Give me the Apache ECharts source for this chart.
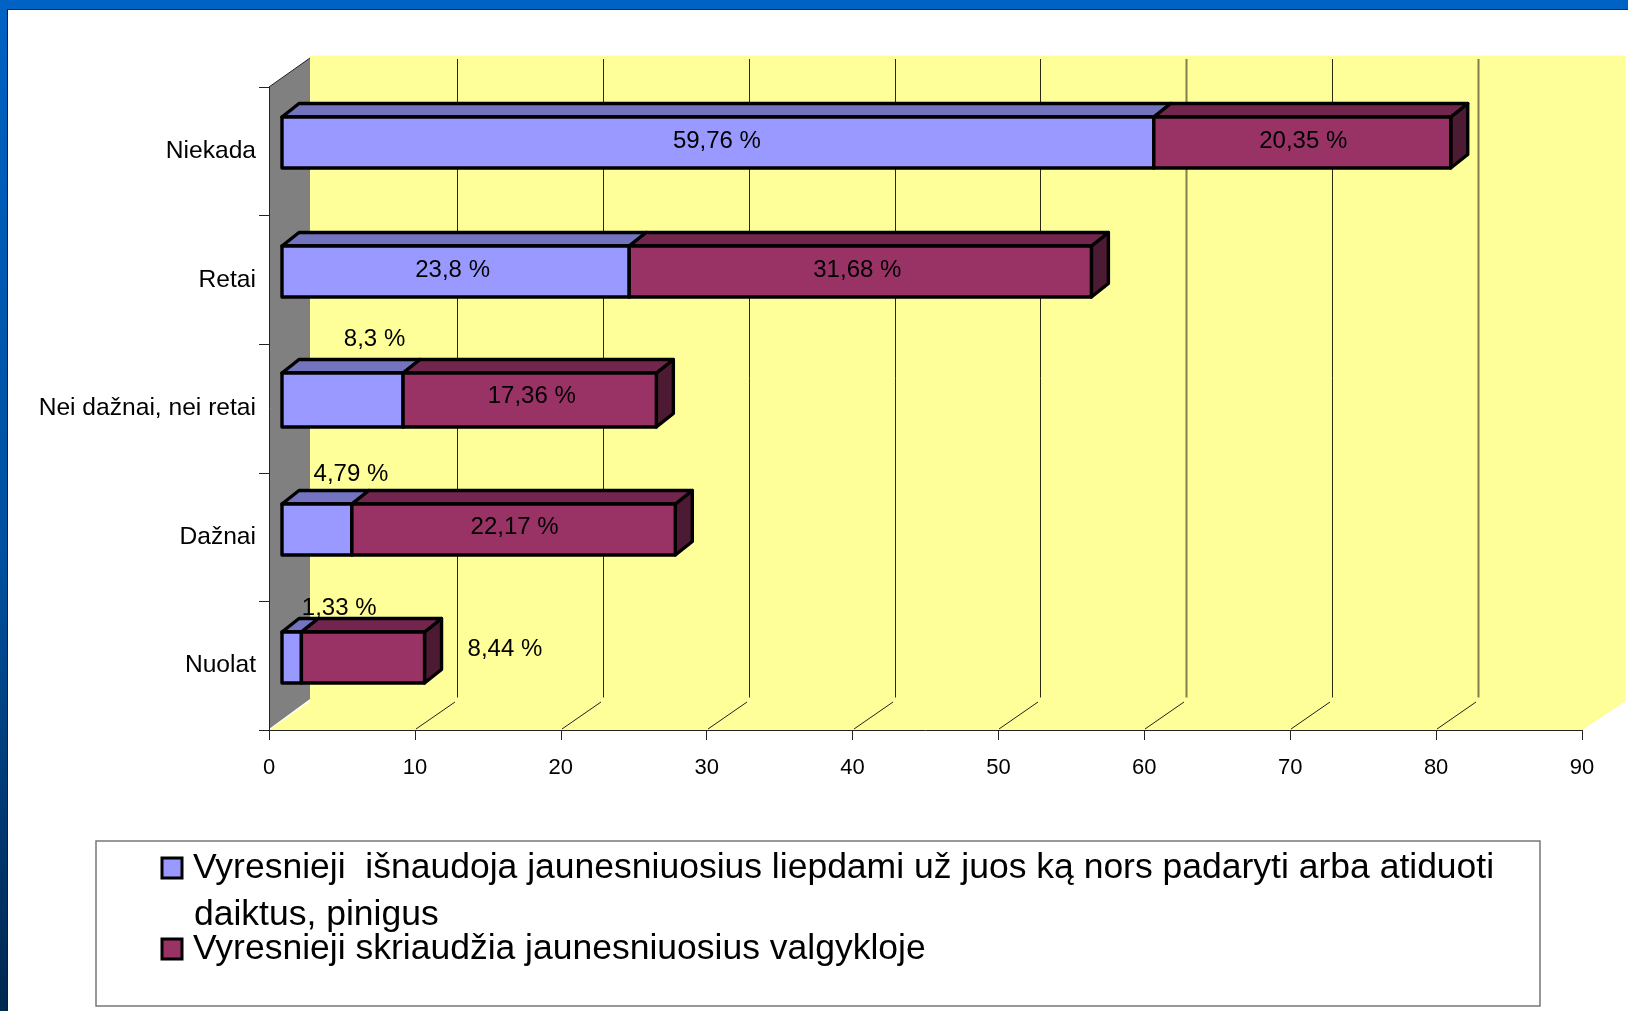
<!DOCTYPE html>
<html>
<head>
<meta charset="utf-8">
<style>html,body{margin:0;padding:0;background:#fff}#c{width:1628px;height:1011px}</style>
<script src="https://cdn.jsdelivr.net/npm/echarts@6/dist/echarts.min.js"></script>
</head>
<body>
<div id="c"></div>
<script>
const categories = ['Niekada', 'Retai', 'Nei dažnai, nei retai', 'Dažnai', 'Nuolat'];
const olderExploit = [59.76, 23.8, 8.3, 4.79, 1.33];
const olderCanteen = [20.35, 31.68, 17.36, 22.17, 8.44];
const seriesNames = [
  'Vyresnieji  išnaudoja jaunesniuosius liepdami už juos ką nors padaryti arba atiduoti daiktus, pinigus',
  'Vyresnieji skriaudžia jaunesniuosius valgykloje'
];
const xTicks = [10, 20, 30, 40, 50, 60, 70, 80];

const FONT = '"Liberation Sans", Arial, sans-serif';
const softGrid = { 60: 1, 80: 1 };
const WALL_DX = 41, WALL_DY = 29;
const BAR_SHIFT = 13, BAR_DX = 17, BAR_DY = 13.5, FRONT_UP = 34, FRONT_DOWN = 17;
// small per-category pixel fits of the bar box: category -> [top, bottom]
const barFit = { 2: [-2, 1], 3: [1, 1] };
// pixel nudges of the labels relative to their segment: [series][category] -> [dx, dy]
const labelNudge = {
  0: { 0: [-1, -1.5], 1: [-3, -1.5], 2: [32, -60.5], 3: [34, -54], 4: [47.5, -49] },
  1: { 0: [1, -1.5], 1: [-3, -1.5], 2: [2, -4], 3: [1, -1], 4: [142, -7.5] }
};

const chart = echarts.init(document.getElementById('c'), null, { renderer: 'canvas' });

function wallItem(params, api) {
  const r = params.coordSys;
  const L = r.x, R = r.x + r.width, T = r.y, B = r.y + r.height;
  return { type: 'group', children: [
    { type: 'rect', shape: { x: L + WALL_DX, y: T - 31.5, width: r.width + 3, height: r.height + 2.5 }, style: { fill: '#FFFF99' } },
    { type: 'polygon', shape: { points: [[L, B], [R, B], [R + 44, B - WALL_DY], [L + WALL_DX, B - WALL_DY]] }, style: { fill: '#FFFF99' } },
    { type: 'polygon', shape: { points: [[L, T], [L + WALL_DX, T - WALL_DY], [L + WALL_DX, B - WALL_DY - 2], [L, B - 1]] }, style: { fill: '#808080' } },
    { type: 'line', shape: { x1: L, y1: T, x2: L + WALL_DX, y2: T - WALL_DY }, style: { stroke: '#222', lineWidth: 1 } }
  ] };
}

function gridItem(params, api) {
  const v = api.value(0);
  const r = params.coordSys;
  const x = Math.round(api.coord([v, 0])[0]);
  const B = r.y + r.height;
  const soft = softGrid[v];
  const st = { stroke: soft ? '#808050' : '#2a2a10', lineWidth: soft ? 2 : 1 };
  return { type: 'group', children: [
    { type: 'line', shape: { x1: x + 42.5, y1: r.y - 28, x2: x + 42.5, y2: B - 32.5 }, style: st },
    { type: 'line', shape: { x1: x + 1, y1: B - 1, x2: x + 40, y2: B - 28 }, style: { stroke: '#222', lineWidth: 1 } }
  ] };
}

function barItemFactory(front, top, side) {
  return function (params, api) {
    const cat = api.value(0);
    const x0 = api.coord([api.value(1), cat])[0] + BAR_SHIFT;
    const x1 = api.coord([api.value(2), cat])[0] + BAR_SHIFT;
    const cy = api.coord([0, cat])[1];
    const fit = barFit[cat] || [0, 0];
    const t = Math.round(cy - FRONT_UP) + fit[0], b = Math.round(cy + FRONT_DOWN) + fit[1];
    const st = (fill) => ({ fill, stroke: '#000', lineWidth: 3.4, lineJoin: 'round' });
    return { type: 'group', children: [
      { type: 'polygon', shape: { points: [[x1, t], [x1 + BAR_DX, t - BAR_DY], [x1 + BAR_DX, b - BAR_DY], [x1, b]] }, style: st(side) },
      { type: 'polygon', shape: { points: [[x0, t], [x0 + BAR_DX, t - BAR_DY], [x1 + BAR_DX, t - BAR_DY], [x1, t]] }, style: st(top) },
      { type: 'rect', shape: { x: x0, y: t, width: x1 - x0, height: b - t }, style: st(front) }
    ] };
  };
}

function labelItemFactory(seriesIndex) {
  return function (params, api) {
    const cat = api.value(0);
    const x0 = api.coord([api.value(1), cat])[0] + BAR_SHIFT;
    const x1 = api.coord([api.value(2), cat])[0] + BAR_SHIFT;
    const cy = api.coord([0, cat])[1];
    const n = labelNudge[seriesIndex][cat];
    const val = api.value(3);
    return {
      type: 'text',
      x: (x0 + x1) / 2 + n[0],
      y: cy - 8.5 + n[1],
      style: { text: String(val).replace('.', ',') + ' %', fill: '#000', font: '24px ' + FONT, align: 'center', verticalAlign: 'middle' }
    };
  };
}

const row1 = categories.map((_, i) => [i, 0, olderExploit[i], olderExploit[i]]);
const row2 = categories.map((_, i) => [i, olderExploit[i], +(olderExploit[i] + olderCanteen[i]).toFixed(2), olderCanteen[i]]);
const enc = { x: [1, 2], y: 0 };

function legendCommon(extra) {
  return Object.assign({
    orient: 'vertical', icon: 'rect', selectedMode: false, padding: 0,
    itemWidth: 20, itemHeight: 20,
    itemStyle: { borderColor: '#000', borderWidth: 3 },
    textStyle: { fontFamily: FONT, fontSize: 35.5, color: '#000', padding: [0, 0, 0, 6] }
  }, extra);
}

chart.setOption({
  animation: false,
  backgroundColor: '#fff',
  grid: { left: 269, right: 46, top: 87, bottom: 281, containLabel: false },
  xAxis: {
    type: 'value', min: 0, max: 90, interval: 10, z: 3,
    splitLine: { show: false },
    axisLine: { show: true, lineStyle: { color: '#222', width: 1 } },
    axisTick: { show: true, length: 10, lineStyle: { color: '#222', width: 1 } },
    axisLabel: { color: '#000', fontFamily: FONT, fontSize: 22, margin: 27 }
  },
  yAxis: {
    type: 'category', inverse: true, data: categories, z: 3,
    axisLine: { show: true, lineStyle: { color: '#222', width: 1 } },
    axisTick: { show: true, length: 10, lineStyle: { color: '#222', width: 1 } },
    axisLabel: { color: '#000', fontFamily: FONT, fontSize: 24.6, margin: 13, padding: [4, 0, 0, 0] }
  },
  legend: [
    legendCommon({
      left: 160.5, top: 850, data: [seriesNames[0]],
      formatter: () => 'Vyresnieji  išnaudoja jaunesniuosius liepdami už juos ką nors padaryti arba atiduoti'
    }),
    legendCommon({ left: 160.5, top: 931, data: [seriesNames[1]] })
  ],
  graphic: [
    { type: 'rect', z: -10, shape: { x: 0, y: 0, width: 8, height: 1011 }, style: { fill: new echarts.graphic.LinearGradient(0, 0, 0, 1, [
      { offset: 0, color: '#0062C4' }, { offset: 0.55, color: '#00509F' }, { offset: 1, color: '#002850' }]) } },
    { type: 'rect', z: -10, shape: { x: 0, y: 0, width: 1628, height: 10 }, style: { fill: '#0062C4' } },
    { type: 'rect', z: -9, shape: { x: 7, y: 9, width: 1621, height: 1 }, style: { fill: '#222b38' } },
    { type: 'rect', z: -9, shape: { x: 7, y: 9, width: 1, height: 1002 }, style: { fill: '#101c2c' } },
    { type: 'rect', z: 1, shape: { x: 96, y: 841, width: 1444, height: 165 }, style: { fill: 'none', stroke: '#777', lineWidth: 1.5 } },
    { type: 'text', z: 5, x: 194, y: 897, style: { text: 'daiktus, pinigus', fill: '#000', font: '35.5px ' + FONT } }
  ],
  series: [
    { type: 'custom', name: 'walls', silent: true, z: 1, clip: false, data: [[0]], renderItem: wallItem, encode: { x: 0 } },
    { type: 'custom', name: 'gridlines', silent: true, z: 2, clip: false, data: xTicks.map(v => [v]), renderItem: gridItem, encode: { x: 0 } },
    { type: 'custom', name: seriesNames[0], z: 4, clip: false, data: row1, encode: enc, itemStyle: { color: '#9999FF' },
      renderItem: barItemFactory('#9999FF', '#7373BF', '#4D4D80') },
    { type: 'custom', name: seriesNames[1], z: 5, clip: false, data: row2, encode: enc, itemStyle: { color: '#993366' },
      renderItem: barItemFactory('#993366', '#73264D', '#4D1A33') },
    { type: 'custom', name: 'labels1', silent: true, z: 6, clip: false, data: row1, encode: enc, renderItem: labelItemFactory(0) },
    { type: 'custom', name: 'labels2', silent: true, z: 6, clip: false, data: row2, encode: enc, renderItem: labelItemFactory(1) }
  ]
});
</script>
</body>
</html>
